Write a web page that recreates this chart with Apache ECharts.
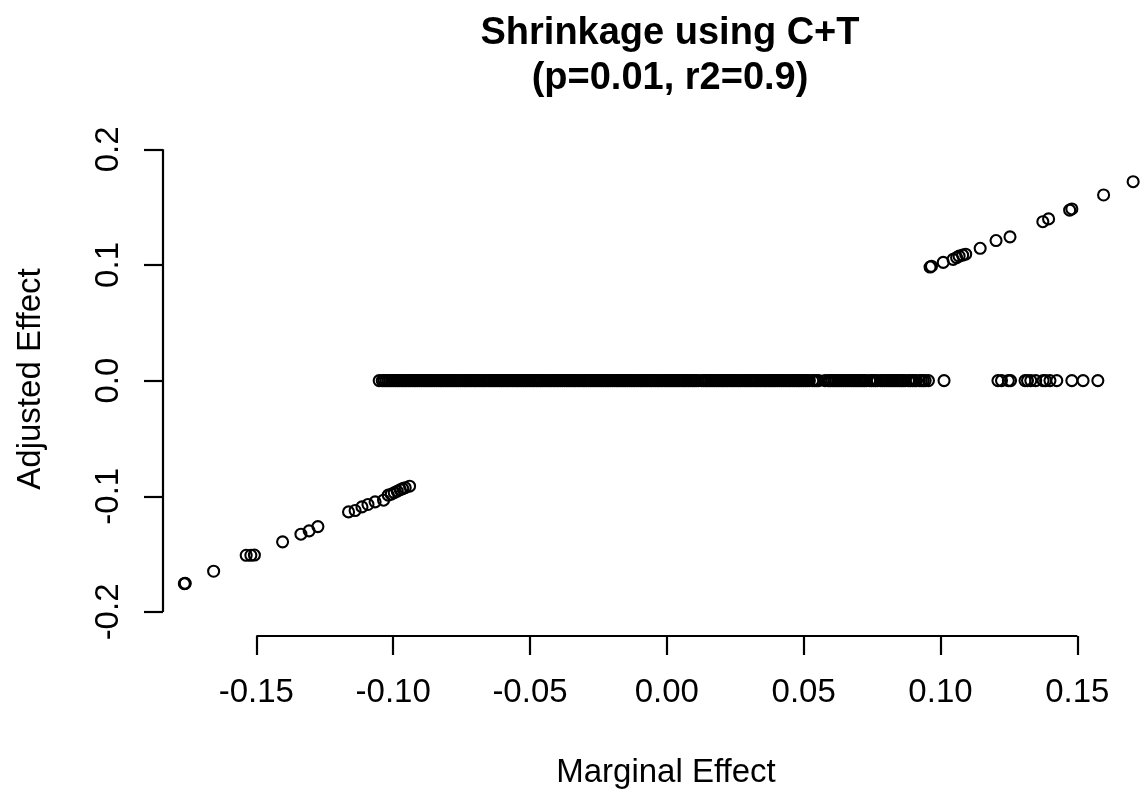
<!DOCTYPE html>
<html>
<head>
<meta charset="utf-8">
<script src="https://cdn.jsdelivr.net/npm/echarts@6/dist/echarts.min.js"></script>
<style>
  html, body { margin: 0; padding: 0; background: #fff; }
  #chart { width: 1145px; height: 793px; }
</style>
</head>
<body>
<div id="chart"></div>
<script>
// Tick positions and labels
const xTicks = [-0.15, -0.10, -0.05, 0.00, 0.05, 0.10, 0.15];
const yTicks = [-0.2, -0.1, 0.0, 0.1, 0.2];

// SNPs kept by clumping + thresholding (adjusted effect equals marginal effect)
const keptNegMarginal = [-0.1763, -0.1760, -0.1761, -0.1656, -0.1537, -0.1520, -0.1507, -0.1404,
  -0.1337, -0.1307, -0.1275, -0.1163, -0.1139, -0.1114, -0.1092, -0.1066, -0.1035,
  -0.1018, -0.1007, -0.0996, -0.0985, -0.0974, -0.0965, -0.0956, -0.0940];
const keptNegAdjusted = [-0.1756, -0.1752, -0.1754, -0.1648, -0.1510, -0.1510, -0.1508, -0.1394,
  -0.1328, -0.1299, -0.1262, -0.1135, -0.1123, -0.1092, -0.1071, -0.1048, -0.1034,
  -0.0990, -0.0982, -0.0969, -0.0956, -0.0943, -0.0934, -0.0926, -0.0913];

const keptPosMarginal = [0.0962, 0.0967, 0.1010, 0.1046, 0.1059, 0.1068, 0.1081, 0.1092, 0.1145,
  0.1203, 0.1254, 0.1374, 0.1395, 0.1472, 0.1480, 0.1596, 0.1704];
const keptPosAdjusted = [0.0982, 0.0989, 0.1022, 0.1048, 0.1063, 0.1076, 0.1085, 0.1093, 0.1144,
  0.1211, 0.1243, 0.1374, 0.1398, 0.1474, 0.1484, 0.1605, 0.1720];

// SNPs dropped by clumping + thresholding (adjusted effect set to 0)
const droppedMarginal = [
  -0.1051, -0.1040, -0.1033, -0.1026, -0.1019, -0.1012, -0.1005, -0.0998, -0.0991, -0.0985,
  -0.0978, -0.0971, -0.0964, -0.0957, -0.0951, -0.0944, -0.0937, -0.0930, -0.0923, -0.0917,
  -0.0910, -0.0903, -0.0896, -0.0889, -0.0883, -0.0876, -0.0869, -0.0862, -0.0856, -0.0849,
  -0.0842, -0.0835, -0.0828, -0.0822, -0.0815, -0.0808, -0.0801, -0.0795, -0.0788, -0.0781,
  -0.0774, -0.0767, -0.0761, -0.0754, -0.0747, -0.0740, -0.0734, -0.0727, -0.0720, -0.0713,
  -0.0706, -0.0700, -0.0693, -0.0686, -0.0679, -0.0672, -0.0666, -0.0659, -0.0652, -0.0645,
  -0.0639, -0.0632, -0.0625, -0.0618, -0.0611, -0.0605, -0.0598, -0.0591, -0.0584, -0.0578,
  -0.0571, -0.0564, -0.0557, -0.0550, -0.0544, -0.0537, -0.0530, -0.0523, -0.0517, -0.0510,
  -0.0503, -0.0496, -0.0489, -0.0483, -0.0476, -0.0469, -0.0462, -0.0456, -0.0449, -0.0442,
  -0.0435, -0.0428, -0.0422, -0.0415, -0.0408, -0.0401, -0.0395, -0.0388, -0.0381, -0.0374,
  -0.0367, -0.0361, -0.0354, -0.0347, -0.0340, -0.0334, -0.0327, -0.0320, -0.0313, -0.0306,
  -0.0300, -0.0293, -0.0286, -0.0279, -0.0273, -0.0266, -0.0259, -0.0252, -0.0245, -0.0239,
  -0.0232, -0.0225, -0.0218, -0.0212, -0.0205, -0.0198, -0.0191, -0.0184, -0.0178, -0.0171,
  -0.0164, -0.0157, -0.0151, -0.0144, -0.0137, -0.0130, -0.0123, -0.0117, -0.0110, -0.0103,
  -0.0096, -0.0090, -0.0083, -0.0076, -0.0069, -0.0062, -0.0056, -0.0049, -0.0042, -0.0035,
  -0.0029, -0.0022, -0.0015, -0.0008, -0.0001, 0.0005, 0.0012, 0.0019, 0.0026, 0.0033,
  0.0039, 0.0046, 0.0053, 0.0060, 0.0066, 0.0073, 0.0080, 0.0087, 0.0094, 0.0100,
  0.0107, 0.0115, 0.0127, 0.0134, 0.0141, 0.0147, 0.0154, 0.0161, 0.0168, 0.0175,
  0.0181, 0.0188, 0.0195, 0.0202, 0.0208, 0.0215, 0.0222, 0.0229, 0.0236, 0.0242,
  0.0249, 0.0256, 0.0263, 0.0269, 0.0276, 0.0283, 0.0290, 0.0297, 0.0303, 0.0310,
  0.0317, 0.0324, 0.0330, 0.0337, 0.0344, 0.0351, 0.0358, 0.0364, 0.0371, 0.0378,
  0.0385, 0.0391, 0.0398, 0.0405, 0.0412, 0.0419, 0.0425, 0.0432, 0.0439, 0.0446,
  0.0452, 0.0459, 0.0466, 0.0473, 0.0480, 0.0486, 0.0493, 0.0500, 0.0507, 0.0514,
  0.0521, 0.0533, 0.0540, 0.0547, 0.0555, 0.0578, 0.0590, 0.0597, 0.0604, 0.0611,
  0.0618, 0.0625, 0.0632, 0.0639, 0.0646, 0.0653, 0.0660, 0.0667, 0.0674, 0.0681,
  0.0688, 0.0695, 0.0702, 0.0709, 0.0716, 0.0722, 0.0729, 0.0741, 0.0748, 0.0755,
  0.0762, 0.0769, 0.0781, 0.0788, 0.0795, 0.0802, 0.0809, 0.0816, 0.0823, 0.0830,
  0.0837, 0.0844, 0.0851, 0.0858, 0.0864, 0.0871, 0.0883, 0.0890, 0.0897, 0.0904,
  0.0911, 0.0923, 0.0930, 0.0937, 0.0944, 0.0956, 0.1013,
  0.1210, 0.1223, 0.1248, 0.1256, 0.1309, 0.1318, 0.1330, 0.1348, 0.1375, 0.1384,
  0.1400, 0.1425, 0.1480, 0.1521, 0.1575
];

// Plot region limits
const xMin = -0.1841, xMax = 0.1835;
const yMin = -0.2208, yMax = 0.2236;

const keptPoints = keptNegMarginal.map((x, i) => [x, keptNegAdjusted[i]])
  .concat(keptPosMarginal.map((x, i) => [x, keptPosAdjusted[i]]));
const droppedPoints = droppedMarginal.map(x => [x, 0]);

const FONT = '"Liberation Sans", Arial, Helvetica, sans-serif';
const pointStyle = {
  color: 'rgba(0,0,0,0)',
  borderColor: '#000',
  borderWidth: 2.1,
  opacity: 1
};

const chart = echarts.init(document.getElementById('chart'), null, { renderer: 'canvas' });
chart.setOption({
  animation: false,
  backgroundColor: '#fff',
  title: {
    text: 'Shrinkage using C+T\n(p=0.01, r2=0.9)',
    left: 665,
    top: 6,
    textAlign: 'center',
    textStyle: {
      fontFamily: FONT,
      fontSize: 38,
      fontWeight: 'bold',
      color: '#000',
      lineHeight: 45
    }
  },
  grid: {
    left: 163,
    right: -24,
    top: 122,
    bottom: 157,
    outerBoundsMode: 'none',
    containLabel: false
  },
  xAxis: {
    type: 'value',
    min: xMin,
    max: xMax,
    name: 'Marginal Effect',
    nameLocation: 'middle',
    nameGap: 120,
    nameTextStyle: { fontFamily: FONT, fontSize: 33, color: '#000' },
    axisLine: { show: false, onZero: false },
    splitLine: { show: false },
    axisTick: {
      show: true,
      length: 19,
      customValues: xTicks,
      lineStyle: { color: '#000', width: 2.2 }
    },
    axisLabel: {
      show: true,
      customValues: xTicks,
      margin: 40,
      fontFamily: FONT,
      fontSize: 33,
      color: '#000',
      formatter: v => v.toFixed(2)
    }
  },
  yAxis: {
    type: 'value',
    min: yMin,
    max: yMax,
    name: 'Adjusted Effect',
    nameLocation: 'middle',
    nameGap: 116,
    nameTextStyle: { fontFamily: FONT, fontSize: 33, color: '#000' },
    axisLine: { show: false, onZero: false },
    splitLine: { show: false },
    axisTick: {
      show: true,
      length: 19,
      customValues: yTicks,
      lineStyle: { color: '#000', width: 2.2 }
    },
    axisLabel: {
      show: true,
      customValues: yTicks,
      rotate: 90,
      margin: 38,
      fontFamily: FONT,
      fontSize: 33,
      color: '#000',
      formatter: v => v.toFixed(1)
    }
  },
  series: [
    {
      name: 'x axis line',
      type: 'line',
      clip: false,
      silent: true,
      symbol: 'none',
      lineStyle: { color: '#000', width: 2.2 },
      data: [[xTicks[0], yMin], [xTicks[xTicks.length - 1], yMin]]
    },
    {
      name: 'y axis line',
      type: 'line',
      clip: false,
      silent: true,
      symbol: 'none',
      lineStyle: { color: '#000', width: 2.2 },
      data: [[xMin, yTicks[0]], [xMin, yTicks[yTicks.length - 1]]]
    },
    {
      name: 'dropped',
      type: 'scatter',
      clip: false,
      symbol: 'circle',
      symbolSize: 11,
      itemStyle: pointStyle,
      emphasis: { disabled: true },
      data: droppedPoints
    },
    {
      name: 'kept',
      type: 'scatter',
      clip: false,
      symbol: 'circle',
      symbolSize: 11,
      itemStyle: pointStyle,
      emphasis: { disabled: true },
      data: keptPoints
    }
  ]
});
</script>
</body>
</html>
